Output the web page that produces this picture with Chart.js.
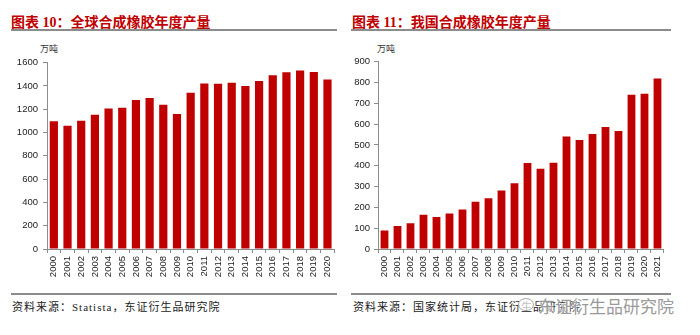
<!DOCTYPE html>
<html>
<head>
<meta charset="utf-8">
<script src="https://cdn.jsdelivr.net/npm/chart.js@4"></script>
<style>
body{margin:0;background:#fff;width:700px;height:335px;position:relative;overflow:hidden;font-family:"Liberation Sans",Arial,sans-serif}
.title{position:absolute;top:11px;font-family:"Liberation Serif","Noto Sans CJK SC",serif;font-weight:bold;font-size:14px;color:#c00000;white-space:nowrap}
.rule{position:absolute;height:2px;background:#8c8c8c}
.unit{position:absolute;top:42px;font-family:"Noto Sans CJK SC",sans-serif;font-size:9px;color:#333}
.src{position:absolute;top:298px;font-family:"Liberation Serif","Noto Sans CJK SC",serif;font-size:11px;color:#222;letter-spacing:1px;white-space:nowrap}
.wm{position:absolute;top:293px;left:538px;font-family:"Noto Sans CJK SC",sans-serif;font-size:17px;color:#9a9a9a;white-space:nowrap;text-shadow:0 0 2px #fff,0 0 2px #fff}
.wmicon{position:absolute;top:298px;left:518px;width:14px;height:11px;border:1.5px solid #aaa;border-radius:50%;background:rgba(255,255,255,0.7)}
canvas{position:absolute}
</style>
</head>
<body>
<div class="title" style="left:11px">图表 10：全球合成橡胶年度产量</div>
<div class="rule" style="left:11px;top:29px;width:326px"></div>
<div class="unit" style="left:40px">万吨</div>
<canvas id="c1" width="342" height="240" style="left:0;top:52px"></canvas>
<div class="rule" style="left:11px;top:293px;width:326px"></div>
<div class="src" style="left:12px">资料来源：Statista，东证衍生品研究院</div>

<div class="title" style="left:352px">图表 11：我国合成橡胶年度产量</div>
<div class="rule" style="left:351px;top:29px;width:320px"></div>
<div class="unit" style="left:377px">万吨</div>
<canvas id="c2" width="322" height="240" style="left:350px;top:52px"></canvas>
<div class="rule" style="left:351px;top:293px;width:320px"></div>
<div class="src" style="left:353px">资料来源：国家统计局，东证衍生品研究院</div>
<div class="wmicon"></div>
<div class="wm">东证衍生品研究院</div>

<script>
// global synthetic rubber output, 万吨
var globalYears = ['2000','2001','2002','2003','2004','2005','2006','2007','2008','2009','2010','2011','2012','2013','2014','2015','2016','2017','2018','2019','2020'];
var globalOutput = [1097,1059,1101,1152,1207,1213,1279,1296,1239,1160,1341,1422,1420,1428,1400,1442,1493,1518,1532,1520,1456];

// China synthetic rubber output, 万吨
var chinaYears = ['2000','2001','2002','2003','2004','2005','2006','2007','2008','2009','2010','2011','2012','2013','2014','2015','2016','2017','2018','2019','2020','2021'];
var chinaOutput = [89,111,124,165,154,170,190,227,244,281,316,413,386,414,540,524,552,586,567,741,746,819];

var red = '#c00000';
var axisGray = '#8c8c8c';

function makeChart(id, labels, values, max, step, yWidth, pad) {
  return new Chart(document.getElementById(id), {
    type: 'bar',
    data: {
      labels: labels,
      datasets: [{ data: values, backgroundColor: red, barPercentage: 0.6, categoryPercentage: 1 }]
    },
    options: {
      responsive: false,
      animation: false,
      layout: { padding: { top: 9, right: 5, left: 0, bottom: 0 } },
      plugins: { legend: { display: false }, tooltip: { enabled: false } },
      scales: {
        x: {
          grid: { drawOnChartArea: false, tickLength: 4, color: axisGray },
          border: { color: axisGray, width: 1 },
          ticks: { autoSkip: false, minRotation: 90, maxRotation: 90, padding: 3, color: '#222', font: { family: 'Liberation Sans', size: 9.5 } },
          afterFit: function (s) { s.height = 43; }
        },
        y: {
          min: 0, max: max,
          grid: { drawOnChartArea: false, tickLength: 4, color: axisGray },
          border: { color: axisGray, width: 1 },
          ticks: { stepSize: step, padding: pad, color: '#222', font: { family: 'Liberation Sans', size: 9.5 },
                   callback: function (v) { return String(v); } },
          afterFit: function (s) { s.width = yWidth; }
        }
      }
    }
  });
}

makeChart('c1', globalYears, globalOutput, 1600, 200, 47, 5);
makeChart('c2', chinaYears, chinaOutput, 900, 100, 28, 4);
</script>
</body>
</html>
